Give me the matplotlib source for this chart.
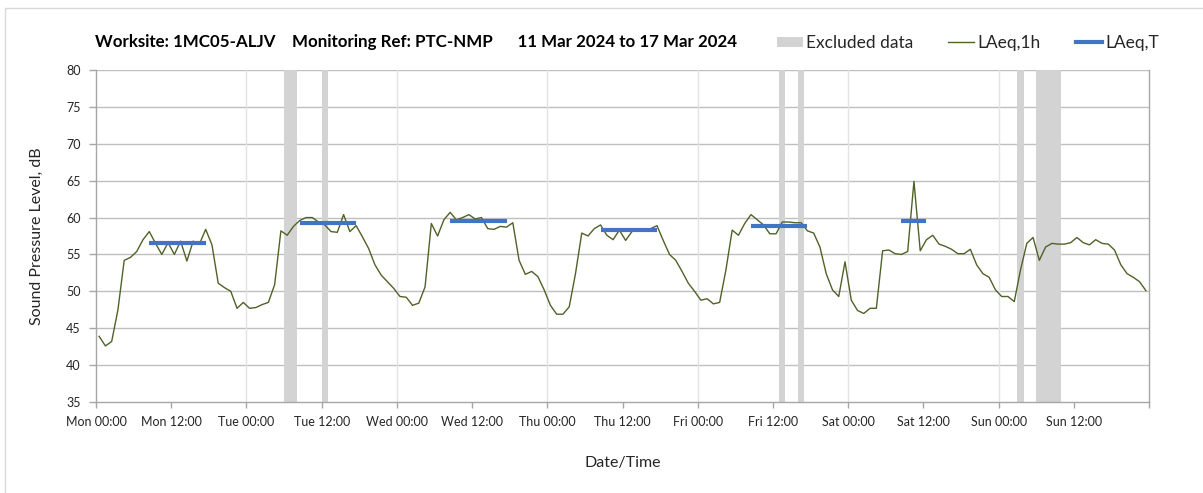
import matplotlib
matplotlib.use("Agg")
import matplotlib.pyplot as plt
from matplotlib.patches import Patch, Rectangle
from matplotlib.lines import Line2D
import numpy as np

# ---- data ----
laeq_1h = [
    43.9, 42.6, 43.2, 47.5, 54.2, 54.6, 55.4, 57.0, 58.1, 56.5, 55.0, 56.6,
    55.0, 56.8, 54.1, 56.8, 56.4, 58.4, 56.3, 51.1, 50.5, 50.0, 47.7, 48.5,
    47.7, 47.8, 48.2, 48.5, 50.9, 58.2, 57.6, 58.8, 59.6, 60.0, 60.0, 59.4,
    59.0, 58.1, 58.0, 60.4, 58.1, 58.9, 57.4, 55.8, 53.6, 52.2, 51.3, 50.4,
    49.3, 49.2, 48.1, 48.4, 50.6, 59.2, 57.5, 59.7, 60.7, 59.7, 60.0, 60.4,
    59.8, 60.0, 58.5, 58.4, 58.8, 58.7, 59.3, 54.2, 52.3, 52.7, 52.0, 50.2,
    48.1, 46.9, 46.9, 47.9, 52.4, 57.9, 57.5, 58.5, 59.0, 57.6, 57.0, 58.3,
    56.9, 58.1, 58.3, 58.4, 58.5, 58.9, 56.9, 55.0, 54.2, 52.7, 51.1, 50.0,
    48.8, 49.0, 48.3, 48.5, 52.9, 58.3, 57.6, 59.2, 60.4, 59.7, 59.0, 57.8,
    57.8, 59.4, 59.4, 59.3, 59.3, 58.2, 57.9, 56.0, 52.4, 50.2, 49.3, 54.0,
    48.8, 47.4, 47.0, 47.7, 47.7, 55.5, 55.6, 55.1, 55.0, 55.4, 64.9, 55.5,
    57.0, 57.6, 56.4, 56.1, 55.7, 55.1, 55.1, 55.7, 53.6, 52.4, 51.9, 50.2,
    49.3, 49.3, 48.6, 52.9, 56.5, 57.3, 54.2, 56.0, 56.5, 56.4, 56.4, 56.6,
    57.3, 56.6, 56.3, 57.0, 56.5, 56.4, 55.6, 53.6, 52.4, 51.9, 51.3, 50.1,
]
# LAeq,T periods (start hour index, end hour index, level)
laeqT_start = [8, 32, 56, 80, 104, 128]
laeqT_end = [17, 41, 65, 89, 113, 132]
laeqT_value = [56.6, 59.3, 59.5, 58.3, 58.9, 59.6]
# Excluded data periods (hours from Mon 00:00)
excl_start = [30, 36, 109, 112, 147, 150]
excl_end = [32, 37, 110, 113, 148, 154]
tick_labels = ["Mon 00:00", "Mon 12:00", "Tue 00:00", "Tue 12:00", "Wed 00:00",
               "Wed 12:00", "Thu 00:00", "Thu 12:00", "Fri 00:00", "Fri 12:00",
               "Sat 00:00", "Sat 12:00", "Sun 00:00", "Sun 12:00"]

W, H = 1203, 493
fig = plt.figure(figsize=(W / 100, H / 100), dpi=100)
plt.rcParams['font.family'] = ['Lato', 'DejaVu Sans']

# outer border
fig.patches.append(Rectangle((5 / W, 1 - 8 / H), 1.2, -1.2, transform=fig.transFigure,
                             fill=False, edgecolor='#d9d9d9', linewidth=1.0))

ax = fig.add_axes([96 / W, 1 - 402 / H, (1149 - 96) / W, (402 - 70) / H])

hours = np.arange(len(laeq_1h)) + 0.5
for s, e in zip(excl_start, excl_end):
    ax.axvspan(s, e, color='#d3d3d3', lw=0, zorder=1)
ax.plot(hours, laeq_1h, color='#4f6228', lw=1.0, zorder=3)
for s, e, v in zip(laeqT_start, laeqT_end, laeqT_value):
    ax.plot([s + 0.5, e + 0.5], [v, v], color='#4472c4', lw=3, solid_capstyle='butt', zorder=4)

ax.set_xlim(0, 168)
ax.set_ylim(35, 80)
ax.set_yticks(np.arange(35, 81, 5))
ax.set_xticks(np.arange(0, 157, 12))
ax.set_xticklabels(tick_labels)
ax.set_xticks(np.arange(0, 169, 12), minor=True)
ax.tick_params(axis='x', which='minor', length=4, color='#a6a6a6', width=1)
ax.tick_params(axis='x', which='major', length=4, color='#a6a6a6', width=1,
               labelsize=9, labelcolor='#262626', pad=6)
ax.tick_params(axis='y', length=5, color='#a6a6a6', width=1, labelsize=9,
               labelcolor='#262626', pad=6)

for y in range(40, 81, 5):
    ax.axhline(y, color='#bfbfbf', lw=1, zorder=0.5)
for d in range(24, 168, 24):
    ax.axvline(d, color='#e3e3e3', lw=1, zorder=0.5)

for side in ['left', 'bottom', 'right']:
    ax.spines[side].set_color('#a6a6a6')
    ax.spines[side].set_linewidth(1)
ax.spines['top'].set_visible(False)

ax.set_ylabel("Sound Pressure Level, dB", fontsize=11.5, color='#262626', labelpad=16)
ax.set_xlabel("Date/Time", fontsize=11.5, color='#262626', labelpad=20)

fig.text(95 / W, 1 - 42 / H,
         "Worksite: 1MC05-ALJV    Monitoring Ref: PTC-NMP      11 Mar 2024 to 17 Mar 2024",
         fontsize=12.2, fontweight='bold', color='black', va='center', ha='left')

handles = [Patch(facecolor='#d3d3d3', edgecolor='none'),
           Line2D([], [], color='#4f6228', lw=1),
           Line2D([], [], color='#4472c4', lw=3)]
labels = ["Excluded data", "LAeq,1h", "LAeq,T"]
fig.legend(handles, labels, ncol=3, loc='center left',
           bbox_to_anchor=(761 / W, 1 - 43 / H), frameon=False, fontsize=12.5,
           handlelength=1.5, handleheight=0.5, handletextpad=0.2, columnspacing=2.0,
           labelcolor='#262626')

fig.savefig("out.png", dpi=100)
